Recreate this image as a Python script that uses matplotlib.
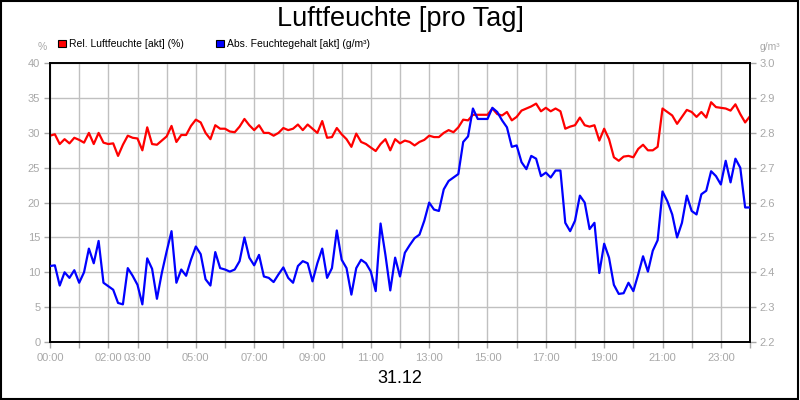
import matplotlib
matplotlib.use("Agg")
import matplotlib.pyplot as plt
import numpy as np

hours = np.arange(145) / 6.0  # 10-minute steps, 00:00 .. 24:00

rel_humidity = [
    29.6, 29.8, 28.4, 29.1, 28.5, 29.3, 29.0, 28.6, 30.0, 28.4, 30.0, 28.6,
    28.4, 28.5, 26.7, 28.3, 29.6, 29.3, 29.2, 27.5, 30.8, 28.4, 28.3, 28.9,
    29.5, 31.0, 28.7, 29.7, 29.7, 31.0, 31.9, 31.5, 30.0, 29.1, 31.1, 30.6,
    30.6, 30.2, 30.1, 30.9, 32.0, 31.1, 30.4, 31.1, 30.0, 30.0, 29.6, 30.0,
    30.7, 30.4, 30.6, 31.2, 30.4, 31.2, 30.6, 30.0, 31.7, 29.3, 29.4, 30.7,
    29.8, 29.1, 28.0, 29.9, 28.7, 28.4, 27.9, 27.4, 28.4, 29.1, 27.5, 29.1,
    28.5, 28.9, 28.7, 28.2, 28.7, 29.0, 29.6, 29.4, 29.4, 30.0, 30.4, 30.1,
    30.8, 31.9, 31.8, 32.6, 32.6, 32.6, 32.6, 33.5, 32.7, 32.5, 33.0, 31.8,
    32.3, 33.2, 33.5, 33.8, 34.2, 33.1, 33.6, 33.1, 33.5, 33.1, 30.6, 30.9,
    31.1, 32.2, 31.1, 30.9, 31.1, 28.9, 30.6, 29.1, 26.5, 26.0, 26.6, 26.7,
    26.5, 27.7, 28.3, 27.5, 27.5, 28.0, 33.5, 33.0, 32.5, 31.3, 32.3, 33.3,
    33.0, 32.3, 33.0, 32.2, 34.4, 33.7, 33.6, 33.5, 33.2, 34.1, 32.7, 31.5,
    32.4,
]

abs_humidity = [
    2.418, 2.420, 2.362, 2.400, 2.384, 2.406, 2.370, 2.400, 2.468, 2.426, 2.490, 2.370,
    2.360, 2.350, 2.312, 2.308, 2.412, 2.390, 2.364, 2.308, 2.440, 2.410, 2.324, 2.398,
    2.460, 2.518, 2.370, 2.408, 2.390, 2.436, 2.474, 2.452, 2.380, 2.362, 2.458, 2.412,
    2.408, 2.402, 2.408, 2.432, 2.500, 2.442, 2.420, 2.450, 2.388, 2.384, 2.372, 2.394,
    2.414, 2.384, 2.370, 2.418, 2.432, 2.426, 2.374, 2.426, 2.468, 2.384, 2.412, 2.520,
    2.436, 2.412, 2.336, 2.412, 2.436, 2.426, 2.402, 2.346, 2.540, 2.450, 2.348, 2.442,
    2.388, 2.456, 2.478, 2.498, 2.508, 2.548, 2.600, 2.580, 2.576, 2.638, 2.662, 2.672,
    2.682, 2.774, 2.790, 2.870, 2.840, 2.840, 2.840, 2.872, 2.860, 2.836, 2.816, 2.760,
    2.764, 2.716, 2.696, 2.734, 2.726, 2.676, 2.686, 2.672, 2.692, 2.692, 2.542, 2.518,
    2.548, 2.620, 2.600, 2.524, 2.542, 2.398, 2.482, 2.442, 2.364, 2.338, 2.340, 2.370,
    2.346, 2.394, 2.446, 2.402, 2.462, 2.492, 2.632, 2.604, 2.566, 2.500, 2.542, 2.620,
    2.576, 2.566, 2.624, 2.634, 2.690, 2.676, 2.652, 2.720, 2.658, 2.726, 2.700, 2.586,
    2.586,
]

xtick_pos = [0, 2, 3, 5, 7, 9, 11, 13, 15, 17, 19, 21, 23]
xtick_labels = ["00:00", "02:00", "03:00", "05:00", "07:00", "09:00", "11:00",
                "13:00", "15:00", "17:00", "19:00", "21:00", "23:00"]
left_ticks = [0, 5, 10, 15, 20, 25, 30, 35, 40]
right_ticks = [2.2, 2.3, 2.4, 2.5, 2.6, 2.7, 2.8, 2.9, 3.0]

plt.rcParams['font.family'] = ['Liberation Sans', 'DejaVu Sans']
GREY = '#a8a8a8'

fig = plt.figure(figsize=(8, 4), dpi=100)
fig.patch.set_facecolor('white')
# figure border
fig.add_artist(plt.Rectangle((0.001, 0.002), 0.997, 0.996, transform=fig.transFigure,
                             fill=False, edgecolor='black', linewidth=1.5))

ax = fig.add_axes([0.0625, 0.145, 0.875, 0.697])
ax2 = ax.twinx()

ax.plot(hours, rel_humidity, color='#ff0000', linewidth=1.6, zorder=3)
ax2.plot(hours, abs_humidity, color='#0000ff', linewidth=1.6, zorder=3)

ax.set_xlim(0, 24)
ax.set_ylim(0, 40)
ax2.set_ylim(2.2, 3.0)

ax.set_xticks(range(0, 25), minor=False)
ax.set_xticklabels([xtick_labels[xtick_pos.index(h)] if h in xtick_pos else "" for h in range(0, 25)])
ax.set_yticks(left_ticks)
ax.set_yticklabels([str(v) for v in left_ticks])
ax2.set_yticks(right_ticks)
ax2.set_yticklabels([f"{v:.1f}" for v in right_ticks])

ax.grid(True, color='#c0c0c0', linewidth=1.0)
ax.set_axisbelow(True)

for a in (ax, ax2):
    for s in a.spines.values():
        s.set_color('black')
        s.set_linewidth(1.2)
ax.tick_params(axis='both', colors=GREY, labelsize=8, length=4, width=1, direction='out', pad=3)
ax2.tick_params(axis='y', colors=GREY, labelsize=8, length=4, width=1, direction='out', pad=3)
ax.tick_params(axis='x', pad=4)

fig.text(0.5, 0.952, "Luftfeuchte [pro Tag]", ha='center', va='center', fontsize=19.5, color='black')
fig.text(0.5, 0.053, "31.12", ha='center', va='center', fontsize=13, color='black')

fig.text(0.053, 0.882, "%", ha='center', va='center', fontsize=7.5, color=GREY)
fig.text(0.962, 0.882, "g/m³", ha='center', va='center', fontsize=7.5, color=GREY)

# legend
fig.add_artist(plt.Rectangle((0.0725, 0.882), 0.0095, 0.019, transform=fig.transFigure,
                             facecolor='#ff0000', edgecolor='black', linewidth=0.8))
fig.text(0.086, 0.891, "Rel. Luftfeuchte [akt] (%)", ha='left', va='center', fontsize=7.5, color='black')
fig.add_artist(plt.Rectangle((0.270, 0.882), 0.0095, 0.019, transform=fig.transFigure,
                             facecolor='#0000ff', edgecolor='black', linewidth=0.8))
fig.text(0.284, 0.891, "Abs. Feuchtegehalt [akt] (g/m³)", ha='left', va='center', fontsize=7.5, color='black')

fig.savefig("out.png", dpi=100, facecolor='white')
